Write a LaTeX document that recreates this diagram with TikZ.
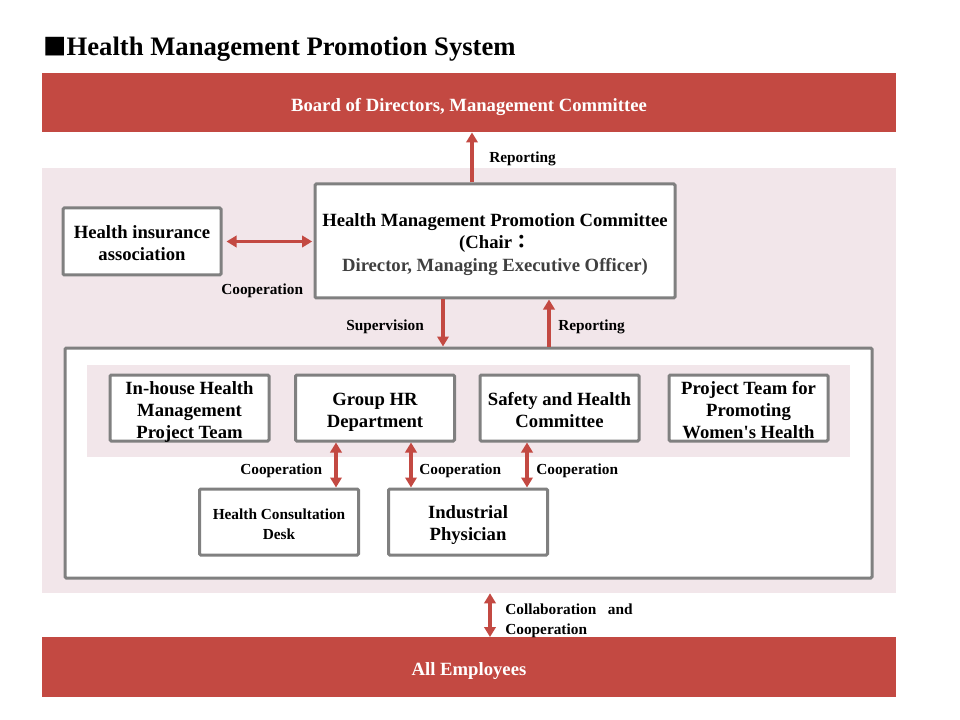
\documentclass[tikz,border=0pt]{standalone}
\usepackage{fontspec}
\setmainfont{Liberation Serif}
\newfontfamily\cjk{Noto Sans CJK JP}
\usetikzlibrary{arrows.meta,calc}
\definecolor{barred}{RGB}{195,73,66}
\definecolor{zonepink}{RGB}{242,230,234}
\definecolor{boxgray}{RGB}{128,128,128}
\definecolor{darktext}{RGB}{64,64,64}
\newcommand\ctext[2][-3pt]{\raisebox{#1}[\height][\depth]{\begin{tabular}{@{}c@{}}#2\end{tabular}}}
\begin{document}
\begin{tikzpicture}[x=0.75pt,y=-0.75pt,
  bar/.style={fill=barred, text=white, font=\bfseries\fontsize{14}{17}\selectfont,
    inner sep=0pt, minimum width=640.5pt, minimum height=44.5pt},
  box/.style={draw=boxgray, line width=2.25pt, fill=white, rounded corners=1pt,
    inner sep=0pt, font=\bfseries\fontsize{14}{16.5}\selectfont},
  smallbox/.style={box, minimum width=119.25pt, minimum height=49.5pt},
  lbl/.style={font=\bfseries\fontsize{11.5}{15}\selectfont, inner sep=0pt, anchor=west, align=left},
  arr/.style={draw=barred, line width=2.6pt, -{Triangle[width=8.5pt,length=7.5pt]}},
  darr/.style={draw=barred, line width=2.6pt, {Triangle[width=8.5pt,length=7.5pt]}-{Triangle[width=8.5pt,length=7.5pt]}}]
\useasboundingbox (0,0) rectangle (960,720);
% title
\node[anchor=base west, inner sep=0pt, font=\bfseries\fontsize{20}{24}\selectfont] (title) at (43,56)
  {{\cjk\fontsize{17.5}{17.5}\selectfont ■}Health Management Promotion System};
% bars and zone
\node[bar] (board) at (469,102.5) {\ctext{Board of Directors, Management Committee}};
\node[fill=zonepink, inner sep=0pt, minimum width=640.5pt, minimum height=318.75pt] (zone) at (469,380.5) {};
\node[bar] (emp) at (469,667) {\ctext{All Employees}};
% committee and association
\node[box, minimum width=270pt, minimum height=85.5pt, font=\bfseries\fontsize{14}{16.9}\selectfont] (comm) at (495,241)
  {\ctext[-2.4pt]{Health Management Promotion Committee\\(Chair{\cjk ：}\\{\color{darktext}Director, Managing Executive Officer)}}};
\node[box, minimum width=118.5pt, minimum height=50.25pt] (hia) at (142,241.5) {\ctext[-2.4pt]{Health insurance\\association}};
% big box
\node[box, minimum width=605.25pt, minimum height=172.5pt] (big) at (468.5,463) {};
\node[fill=zonepink, inner sep=0pt, minimum width=572.25pt, minimum height=69pt] (band) at (468.5,411) {};
\node[smallbox] (inhouse) at (189.5,408) {\ctext{In-house Health\\Management\\Project Team}};
\node[smallbox] (hr) at (375,408) {\ctext{Group HR\\Department}};
\node[smallbox] (safety) at (559.5,408) {\ctext{Safety and Health\\Committee}};
\node[smallbox] (women) at (748.5,408) {\ctext{Project Team for\\Promoting\\Women\textquotesingle s Health}};
\node[smallbox, font=\bfseries\fontsize{11.5}{15}\selectfont] (desk) at (279,522) {\ctext[-2.5pt]{Health Consultation\\Desk}};
\node[smallbox] (phys) at (468,522) {\ctext[-2.6pt]{Industrial\\Physician}};
% connector x positions
\coordinate (xr1) at (472,0);
\coordinate (xs) at (443,0);
\coordinate (xr2) at (549,0);
\coordinate (xc1) at (336,0);
\coordinate (xc2) at (411,0);
\coordinate (xc3) at (527,0);
\coordinate (xc4) at (490,0);
% connectors
\draw[arr] (comm.north -| xr1) -- (board.south -| xr1);
\draw[darr, shorten <=3pt, shorten >=1pt] (hia.east) -- (comm.west |- hia.east);
\draw[arr] (comm.south -| xs) -- (big.north -| xs);
\draw[arr] (big.north -| xr2) -- (comm.south -| xr2);
\draw[darr] (hr.south -| xc1) -- (desk.north -| xc1);
\draw[darr] (hr.south -| xc2) -- (phys.north -| xc2);
\draw[darr] (safety.south -| xc3) -- (phys.north -| xc3);
\draw[darr] (zone.south -| xc4) -- (emp.north -| xc4);
% labels
\node[lbl] (l1) at (489,159) {Reporting};
\node[lbl] (l2) at (221,291) {Cooperation};
\node[lbl] (l3) at (346,327) {Supervision};
\node[lbl] (l4) at (558,327) {Reporting};
\node[lbl] (l5) at (240,471) {Cooperation};
\node[lbl] (l6) at (419,471) {Cooperation};
\node[lbl] (l7) at (536,471) {Cooperation};
\node[lbl] (l8) at (505,620.5) {Collaboration~~ and\\Cooperation};
\end{tikzpicture}
\end{document}
